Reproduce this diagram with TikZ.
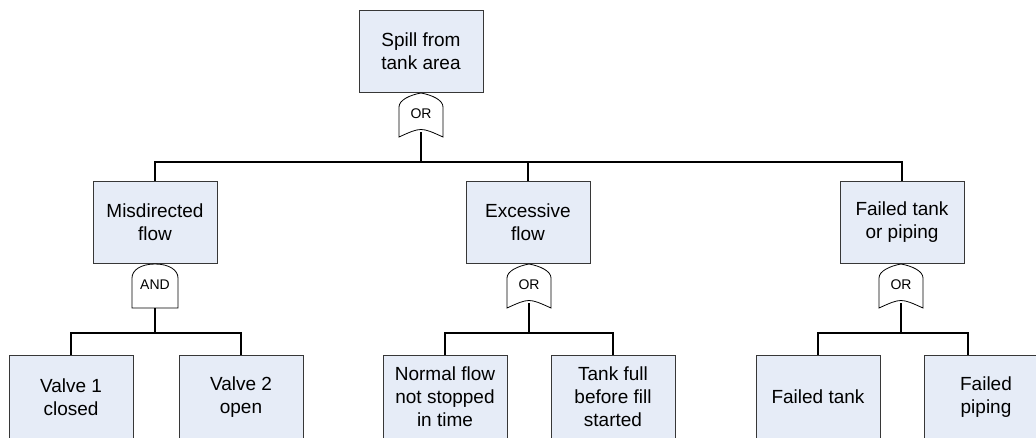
\documentclass[tikz,border=0pt]{standalone}
\usepackage{fontspec}
\setmainfont{Liberation Sans}
\definecolor{boxfill}{RGB}{230,236,247}
\definecolor{boxline}{RGB}{55,55,55}
\newcommand\orgatedraw[3]{% name, cx, top
  \draw[gateline] (#2-22,#3+44) -- (#2-22,#3+14)
    .. controls (#2-22,#3+7) and (#2-11,#3+2) .. (#2,#3)
    .. controls (#2+11,#3+2) and (#2+22,#3+7) .. (#2+22,#3+14)
    -- (#2+22,#3+44) .. controls (#2,#3+34) .. (#2-22,#3+44) -- cycle;
  \node[gatelabel] (#1) at (#2,#3+21) {OR};
  \coordinate (#1-out) at (#2,#3+39);
}
\newcommand\andgatedraw[3]{% name, cx, top
  \draw[gateline] (#2-23,#3+44) -- (#2-23,#3+14)
    .. controls (#2-23,#3+6) and (#2-14,#3) .. (#2,#3)
    .. controls (#2+14,#3) and (#2+23,#3+6) .. (#2+23,#3+14)
    -- (#2+23,#3+44) -- cycle;
  \node[gatelabel] (#1) at (#2,#3+21) {AND};
  \coordinate (#1-out) at (#2,#3+44);
}
\begin{document}
\begin{tikzpicture}[x=1pt,y=-1pt,
  event/.style={draw=boxline, line width=0.9pt, fill=boxfill, minimum width=124pt,
    minimum height=82pt, inner sep=0pt, align=center,
    font=\fontsize{19}{23}\selectfont},
  leaf/.style={event, minimum height=84pt},
  gateline/.style={draw=black, line width=0.8pt, fill=white},
  gatelabel/.style={inner sep=0pt, font=\fontsize{14}{16}\selectfont},
  conn/.style={draw=black, line width=1.6pt}]
\useasboundingbox (0,0) rectangle (1036,437);
% events
\node[event] (top) at (421,51) {Spill from\\tank area};
\node[event] (mis) at (155,222) {Misdirected\\flow};
\node[event] (exc) at (528,222) {Excessive\\flow};
\node[event] (fail) at (902,222) {Failed tank\\or piping};
\node[leaf] (v1) at (71,397) {Valve 1\\closed};
\node[leaf] (v2) at (241,397) {Valve 2\\open};
\node[leaf] (nf) at (445,397) {Normal flow\\not stopped\\in time};
\node[leaf] (tf) at (613,397) {Tank full\\before fill\\started};
\node[leaf] (ft) at (818,397) {Failed tank};
\node[leaf] (fp) at (986,397) {Failed\\piping};
% gates
\orgatedraw{g0}{421}{93}
\andgatedraw{g1}{155}{264}
\orgatedraw{g2}{529}{264}
\orgatedraw{g3}{901}{264}
% bus coordinates
\coordinate (b0) at (421,162);
\coordinate (b1) at (155,333);
\coordinate (b2) at (529,333);
\coordinate (b3) at (901,333);
% connectors
\draw[conn] (g0-out) -- (b0);
\draw[conn] (mis.north) |- (b0) -| (fail.north);
\draw[conn] (exc.north) -- (exc.north |- b0);
\draw[conn] (g1-out) -- (b1);
\draw[conn] (v1.north) |- (b1) -| (v2.north);
\draw[conn] (g2-out) -- (b2);
\draw[conn] (nf.north) |- (b2) -| (tf.north);
\draw[conn] (g3-out) -- (b3);
\draw[conn] (ft.north) |- (b3) -| ([xshift=-18pt]fp.north);
\end{tikzpicture}
\end{document}
